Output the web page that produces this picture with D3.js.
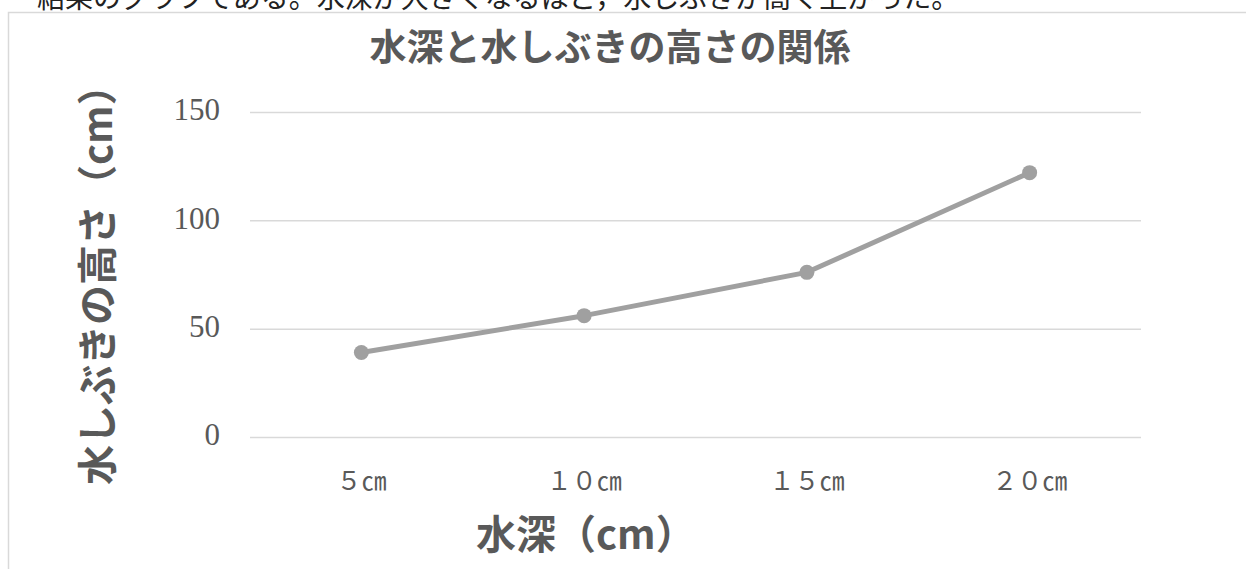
<!DOCTYPE html>
<html>
<head>
<meta charset="utf-8">
<script src="https://cdn.jsdelivr.net/npm/d3@7"></script>
<style>
  html, body { margin: 0; padding: 0; background: #fff; overflow: hidden; }
  svg { display: block; }
</style>
</head>
<body>
<svg class="line-chart"></svg>
<script>
// values
const depths = ["５㎝", "１０㎝", "１５㎝", "２０㎝"];
const heights = [39, 56, 76, 122];
const yTicks = [0, 50, 100, 150];

const width = 1246;
const height = 569;
const margin = {top: 112, right: 105, bottom: 132, left: 250};
const ink = "#595959";
const sans = "'Noto Sans CJK JP', 'Noto Sans', sans-serif";

const data = depths.map((d, i) => ({depth: d, h: heights[i]}));

const svg = d3.select(".line-chart")
    .attr("width", width)
    .attr("height", height);

// sentence above the chart, cut off by the page top
svg.append("text")
    .attr("x", 37)
    .attr("y", 8)
    .style("font", "28px " + sans)
    .attr("fill", "#222")
    .text("結果のグラフである。水深が大きくなるほど，水しぶきが高く上がった。");

// chart frame (runs off the right and bottom edges)
svg.append("rect")
    .attr("x", 8.5)
    .attr("y", 12.5)
    .attr("width", 1400)
    .attr("height", 700)
    .attr("fill", "none")
    .attr("stroke", "#d9d9d9")
    .attr("stroke-width", 1.5);

const x = d3.scaleBand()
    .domain(depths)
    .range([margin.left, width - margin.right]);

const y = d3.scaleLinear()
    .domain([0, 150])
    .range([height - margin.bottom, margin.top]);

// y axis with gridlines
const yAxis = svg.append("g")
    .attr("transform", `translate(${margin.left},0)`)
    .call(d3.axisLeft(y)
        .tickValues(yTicks)
        .tickSize(-(width - margin.right - margin.left))
        .tickPadding(30));
yAxis.select(".domain").remove();
yAxis.selectAll(".tick line")
    .attr("stroke", "#d9d9d9")
    .attr("stroke-width", 1.5);
yAxis.selectAll(".tick text")
    .attr("dy", "0.25em")
    .attr("fill", ink)
    .style("font", "31px 'Liberation Serif', 'DejaVu Serif', serif");

// x axis labels only
const xAxis = svg.append("g")
    .attr("transform", `translate(0,${height - margin.bottom})`)
    .call(d3.axisBottom(x).tickSize(0));
xAxis.select(".domain").remove();
xAxis.selectAll(".tick text")
    .attr("y", 53)
    .attr("dy", null)
    .attr("fill", ink)
    .style("font", "25px " + sans);

const line = d3.line()
    .x(d => x(d.depth) + x.bandwidth() / 2)
    .y(d => y(d.h));

svg.append("path")
    .datum(data)
    .attr("fill", "none")
    .attr("stroke", "#a0a0a0")
    .attr("stroke-width", 5)
    .attr("stroke-linejoin", "round")
    .attr("d", line);

svg.append("g")
    .attr("fill", "#a0a0a0")
    .selectAll("circle")
    .data(data)
    .join("circle")
    .attr("cx", d => x(d.depth) + x.bandwidth() / 2)
    .attr("cy", d => y(d.h))
    .attr("r", 7.5);

// titles
svg.append("text")
    .attr("x", 610)
    .attr("y", 61)
    .attr("text-anchor", "middle")
    .attr("fill", ink)
    .style("font", "bold 37px " + sans)
    .text("水深と水しぶきの高さの関係");

svg.append("text")
    .attr("x", 476)
    .attr("y", 549)
    .attr("fill", ink)
    .style("font", "bold 40px " + sans)
    .text("水深（cm）");

svg.append("text")
    .attr("transform", "translate(112,485) rotate(-90)")
    .attr("fill", ink)
    .style("font", "bold 40px " + sans)
    .text("水しぶきの高さ（cm）");
</script>
</body>
</html>
